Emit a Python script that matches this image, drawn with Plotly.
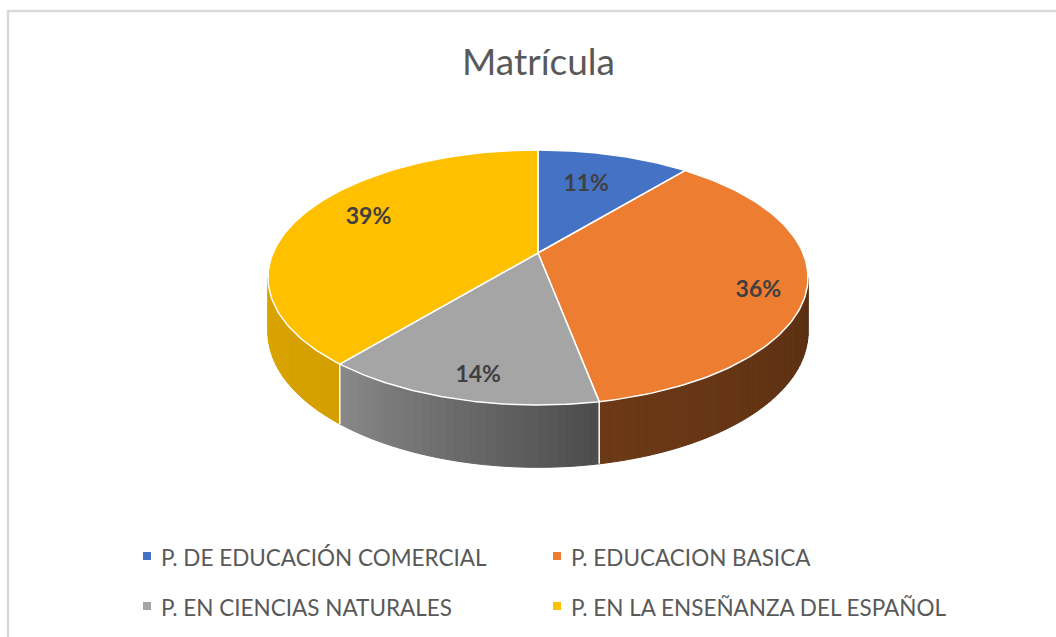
import numpy as np
import plotly.graph_objects as go

# ---- data -------------------------------------------------------------
categories = [
    "P. DE EDUCACIÓN COMERCIAL",
    "P. EDUCACION BASICA",
    "P. EN CIENCIAS NATURALES",
    "P. EN LA ENSEÑANZA DEL ESPAÑOL",
]
shares = [11, 36, 14, 39]          # percent of enrolment
title_text = "Matrícula"

# ---- style ------------------------------------------------------------
colors = ["#4472C4", "#ED7D31", "#A5A5A5", "#FFC000"]
label_color = "#404040"
text_color = "#595959"
FONT = "Lato, 'Open Sans', sans-serif"

W, H = 1056, 637

# 3-D pie geometry (screen units, perspective tilt)
CX, CY = 538.0, 253.0        # projected centre of the top face
A, B, K = 265.0, 122.8, 0.192  # horizontal / vertical radius, perspective
D0, KD = 53.0, 0.15          # thickness and its perspective factor
LABEL_R = 0.72
label_nudge = [(-9, 6), (29, 15), (-5, 24), (2, -6)]


def top_point(theta, r=1.0):
    u = r * np.sin(theta)
    v = r * np.cos(theta)
    s = 1.0 + K * v
    return CX + A * u / s, CY - B * v / s


def thickness(theta):
    return D0 / (1.0 + KD * np.cos(theta))


def shade(theta_deg):
    # light coming from the left: sides darken towards the right
    return np.interp(theta_deg, [101, 169, 219, 260], [0.38, 0.46, 0.83, 0.86])


def hex_rgb(h):
    h = h.lstrip("#")
    return [int(h[i:i + 2], 16) for i in (0, 2, 4)]


def scaled(h, f):
    r, g, b = hex_rgb(h)
    return f"rgb({int(r * f)},{int(g * f)},{int(b * f)})"


total = float(sum(shares))
bounds = np.concatenate([[0.0], np.cumsum(shares) / total * 2 * np.pi])

fig = go.Figure()

# ---- visible side walls ------------------------------------------------
vis_lo = np.arccos(-K)
vis_hi = 2 * np.pi - vis_lo
for i, col in enumerate(colors):
    a0, a1 = max(bounds[i], vis_lo), min(bounds[i + 1], vis_hi)
    if a1 <= a0:
        continue
    n = max(2, int(np.degrees(a1 - a0) / 1.5))
    edges = np.linspace(a0, a1, n + 1)
    for j in range(n):
        ts = np.linspace(edges[j], edges[j + 1], 4)
        xs, ys = top_point(ts)
        xb, yb = xs[::-1], (ys + thickness(ts))[::-1]
        px = np.concatenate([xs, xb, xs[:1]])
        py = np.concatenate([ys, yb, ys[:1]])
        c = scaled(col, shade(np.degrees(0.5 * (edges[j] + edges[j + 1]))))
        fig.add_trace(go.Scatter(
            x=px, y=py, mode="lines", fill="toself", fillcolor=c,
            line=dict(color=c, width=1), hoverinfo="skip", showlegend=False))

# white seams between side walls
for t in bounds[1:-1]:
    if vis_lo < t < vis_hi:
        x0, y0 = top_point(t)
        fig.add_trace(go.Scatter(
            x=[x0, x0], y=[y0, y0 + thickness(t)], mode="lines",
            line=dict(color="white", width=1.5), hoverinfo="skip",
            showlegend=False))

# ---- top faces ---------------------------------------------------------
for i, col in enumerate(colors):
    ts = np.linspace(bounds[i], bounds[i + 1], 120)
    xs, ys = top_point(ts)
    px = np.concatenate([[CX], xs, [CX]])
    py = np.concatenate([[CY], ys, [CY]])
    fig.add_trace(go.Scatter(
        x=px, y=py, mode="lines", fill="toself", fillcolor=col,
        line=dict(color="white", width=1.5), name=categories[i],
        hoverinfo="skip", showlegend=False))

# ---- percentage labels -------------------------------------------------
lx, ly, lt = [], [], []
for i, v in enumerate(shares):
    mid = 0.5 * (bounds[i] + bounds[i + 1])
    x, y = top_point(mid, LABEL_R)
    lx.append(x + label_nudge[i][0])
    ly.append(y + label_nudge[i][1])
    lt.append(f"{round(v / total * 100)}%")
fig.add_trace(go.Scatter(
    x=lx, y=ly, mode="text", text=lt, textposition="middle center",
    textfont=dict(family=FONT, size=23, color=label_color, weight="bold"),
    hoverinfo="skip", showlegend=False))

# ---- legend (two columns) ---------------------------------------------
leg_x = [147, 557, 147, 557]
leg_y = [556, 556, 606, 606]
fig.add_trace(go.Scatter(
    x=leg_x, y=leg_y, mode="markers",
    marker=dict(symbol="square", size=8, color=colors, line=dict(width=0)),
    hoverinfo="skip", showlegend=False))
annotations = []
for i, name in enumerate(categories):
    annotations.append(dict(
        x=leg_x[i] + 12, y=leg_y[i] + 1, xref="x", yref="y", text=name,
        showarrow=False, xanchor="left", yanchor="middle",
        font=dict(family=FONT, size=22.5, color=text_color)))

annotations.append(dict(
    x=CX, y=60, xref="x", yref="y", text=title_text, showarrow=False,
    xanchor="center", yanchor="middle",
    font=dict(family=FONT, size=37, color=text_color)))

fig.update_layout(
    width=W, height=H,
    margin=dict(l=0, r=0, t=0, b=0),
    paper_bgcolor="white", plot_bgcolor="white",
    xaxis=dict(range=[0, W], visible=False, fixedrange=True),
    yaxis=dict(range=[H, 0], visible=False, fixedrange=True),
    annotations=annotations,
    shapes=[dict(type="rect", xref="x", yref="y", x0=8, y0=11, x1=W + 20,
                 y1=H + 20, line=dict(color="#D9D9D9", width=2.5),
                 fillcolor="rgba(0,0,0,0)", layer="below")],
    showlegend=False,
)

fig.write_html("out.html")
